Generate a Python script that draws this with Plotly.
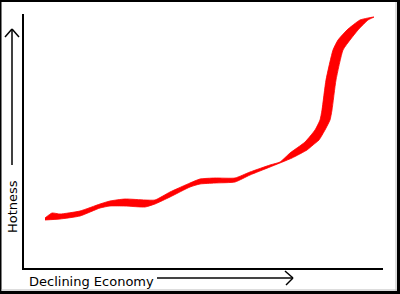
import plotly.graph_objects as go

# Ribbon data (economy decline on x, hotness on y) - upper/left edge then lower/right edge
economy_upper = [21, 28, 36, 56, 76, 86, 101, 121, 131, 146, 166, 176, 191, 211, 226, 246, 256, 266, 281, 291, 296, 298, 302, 309, 314, 323, 336, 350]
hot_upper = [50, 55, 54, 57, 64, 67, 69, 68, 68, 76, 85, 89, 90, 90, 96, 103, 106, 115, 126, 138, 148, 158, 188, 218, 228, 238, 248, 251]
economy_lower = [344, 334, 326, 319, 312, 308, 306, 301, 295, 289, 283, 268, 246, 226, 211, 191, 176, 166, 146, 131, 121, 101, 86, 76, 56, 36, 21]
hot_lower = [248, 238, 228, 218, 188, 158, 148, 138, 128, 123, 118, 110, 101, 93, 86, 85, 84, 81, 71, 64, 61, 62, 62, 60, 52, 49, 48]

x_label = "Declining Economy"
y_label = "Hotness"

W, H = 400, 294
L, R, T, B = 24, 17, 14, 26
PW, PH = W - L - R, H - T - B


def px(x):
    return (x - L) / PW


def py(y):
    return (H - B - y) / PH


fig = go.Figure()
fig.add_trace(go.Scatter(
    x=economy_upper + economy_lower,
    y=hot_upper + hot_lower,
    mode="lines",
    fill="toself",
    fillcolor="#ff0000",
    line=dict(color="#ff0000", width=0.8, shape="spline", smoothing=0.5),
    hoverinfo="skip",
    showlegend=False,
))

shapes = []
# outer frame
for (x0, y0, x1, y1) in [(0, 0, 1.5, H), (0, 0, W, 2), (397, 0, W, H), (0, 291, W, H)]:
    shapes.append(dict(type="rect", xref="paper", yref="paper",
                       x0=px(x0), x1=px(x1), y0=py(y0), y1=py(y1),
                       fillcolor="black", line=dict(width=0), layer="above"))
for (x0, y0, x1, y1) in [(396, 2, 396, 291), (1.5, 290, 397, 290)]:
    shapes.append(dict(type="line", xref="paper", yref="paper",
                       x0=px(x0), x1=px(x1), y0=py(y0), y1=py(y1),
                       line=dict(color="#bbbbbb", width=1)))


def seg(x0, y0, x1, y1, color="black", width=1.5):
    shapes.append(dict(type="line", xref="paper", yref="paper",
                       x0=px(x0), x1=px(x1), y0=py(y0), y1=py(y1),
                       line=dict(color=color, width=width)))


# vertical arrow
seg(12, 165, 12, 29)
seg(5, 37, 12, 29)
seg(19, 37, 12, 29)
# horizontal arrow
seg(157, 278, 293, 278, color="#444444", width=2)
seg(285, 271, 293, 278)
seg(286, 285, 293, 278)

annotations = [
    dict(text=y_label, xref="paper", yref="paper", x=px(12), y=py(207),
         showarrow=False, textangle=-90, xanchor="center", yanchor="middle",
         font=dict(family="DejaVu Sans", size=13, color="black")),
    dict(text=x_label, xref="paper", yref="paper", x=px(91), y=py(281),
         showarrow=False, xanchor="center", yanchor="middle",
         font=dict(family="DejaVu Sans", size=13, color="black")),
]

axis_common = dict(showticklabels=False, showgrid=False, zeroline=False,
                   showline=True, linecolor="black", linewidth=2, ticks="",
                   fixedrange=True)
fig.update_layout(
    width=W, height=H,
    margin=dict(l=L, r=R, t=T, b=B, pad=0),
    paper_bgcolor="white", plot_bgcolor="white",
    xaxis=dict(range=[0, PW], **axis_common),
    yaxis=dict(range=[0, PH], **axis_common),
    shapes=shapes,
    annotations=annotations,
    showlegend=False,
)

fig.write_html("out.html", config={"displayModeBar": False})
